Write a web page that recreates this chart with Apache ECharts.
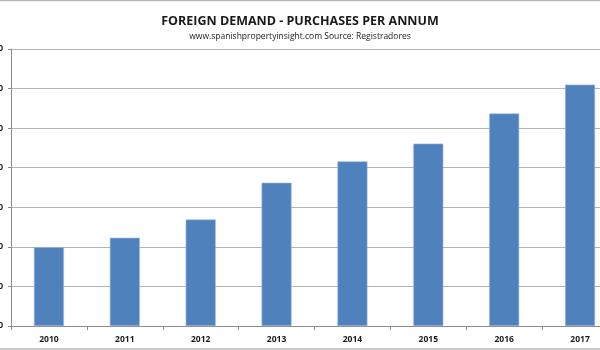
<!DOCTYPE html>
<html>
<head>
<meta charset="utf-8">
<script src="https://cdn.jsdelivr.net/npm/echarts@6/dist/echarts.min.js"></script>
<style>
  html, body { margin: 0; padding: 0; background: #ffffff; }
  #chart { width: 600px; height: 350px; }
</style>
</head>
<body>
<div id="chart"></div>
<script>
// Foreign buyers' property purchases in Spain, per year (Registradores)
const years = ['2010', '2011', '2012', '2013', '2014', '2015', '2016', '2017'];
const purchases = [19900, 22300, 26900, 36200, 41600, 46100, 53700, 61000];
const yTicks = [0, 10000, 20000, 30000, 40000, 50000, 60000, 70000];

const chart = echarts.init(document.getElementById('chart'), null, { renderer: 'canvas' });

chart.setOption({
  backgroundColor: '#ffffff',
  animation: false,
  title: {
    text: 'FOREIGN DEMAND - PURCHASES PER ANNUM',
    subtext: 'www.spanishpropertyinsight.com Source: Registradores',
    left: 'center',
    top: 10,
    itemGap: 4,
    textStyle: {
      fontFamily: 'Open Sans',
      fontSize: 12.5,
      fontWeight: 'bold',
      color: '#1a1a1a'
    },
    subtextStyle: {
      fontFamily: 'Open Sans',
      fontSize: 8.5,
      color: '#1a1a1a'
    }
  },
  // the plot runs past the right edge, and the value labels sit off the left edge
  grid: { left: 11, right: -18, top: 49, bottom: 24, containLabel: false, outerBoundsMode: 'none' },
  xAxis: {
    type: 'category',
    data: years,
    axisLine: { lineStyle: { color: '#8c8c8c', width: 1 } },
    axisTick: { show: true, length: 4, lineStyle: { color: '#8c8c8c' } },
    axisLabel: {
      margin: 9,
      fontFamily: 'Open Sans',
      fontSize: 8.5,
      fontWeight: 'bold',
      color: '#1a1a1a'
    }
  },
  yAxis: {
    type: 'value',
    min: yTicks[0],
    max: yTicks[yTicks.length - 1],
    interval: yTicks[1] - yTicks[0],
    axisLine: { show: true, lineStyle: { color: '#8c8c8c', width: 1 } },
    axisTick: { show: true, length: 3, lineStyle: { color: '#8c8c8c' } },
    axisLabel: {
      margin: 8,
      fontFamily: 'Open Sans',
      fontSize: 8.5,
      fontWeight: 'bold',
      color: '#1a1a1a',
      formatter: v => v.toLocaleString('en-US')
    },
    splitLine: { show: true, lineStyle: { color: '#b4b4b4', width: 1 } }
  },
  series: [{
    type: 'bar',
    data: purchases,
    barWidth: 30,
    itemStyle: {
      color: '#4f81bd',
      borderColor: '#9ab9dd',
      borderWidth: 0.6
    }
  }],
  graphic: [
    { type: 'line', shape: { x1: 0, y1: 0.5, x2: 600, y2: 0.5 }, style: { stroke: '#b8b8b8', lineWidth: 1.5 } },
    { type: 'line', shape: { x1: 0, y1: 349, x2: 600, y2: 349 }, style: { stroke: '#b8b8b8', lineWidth: 1.5 } }
  ]
});
</script>
</body>
</html>
